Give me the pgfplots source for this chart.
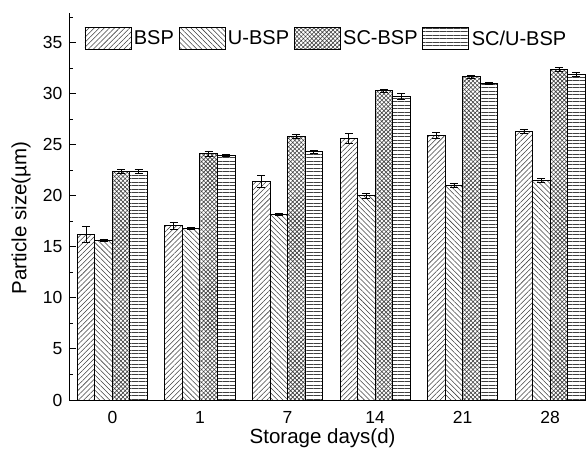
\documentclass[border=0pt]{standalone}
\usepackage{pgfplots}
\pgfplotsset{compat=1.18}
\usetikzlibrary{patterns.meta}
\usepackage{fontspec}
\setmainfont{Liberation Sans}

\pgfplotstableread{
x y e
0 16.25 0.80
1 17.10 0.35
2 21.40 0.60
3 25.60 0.50
4 25.90 0.30
5 26.30 0.20
}\bsp
\pgfplotstableread{
x y e
0 15.65 0.12
1 16.80 0.12
2 18.20 0.12
3 20.00 0.20
4 21.00 0.20
5 21.50 0.20
}\ubsp
\pgfplotstableread{
x y e
0 22.40 0.15
1 24.15 0.25
2 25.85 0.20
3 30.30 0.15
4 31.65 0.15
5 32.40 0.20
}\scbsp
\pgfplotstableread{
x y e
0 22.40 0.20
1 23.95 0.12
2 24.30 0.15
3 29.75 0.30
4 31.00 0.12
5 31.90 0.20
}\scubsp

\pgfplotsset{
  mylegend/.style={legend image code/.code={\draw[##1,line width=0.8pt] (0pt,-11pt) rectangle (46pt,11pt);}},
}

\begin{document}
\begin{tikzpicture}[x=1pt,y=1pt]
\useasboundingbox (-69.5,-48) rectangle (516.5,400);
\begin{axis}[
  at={(0,0)}, anchor=south west,
  scale only axis, width=516.5pt, height=387pt,
  axis lines=left,
  axis line style={-, line width=1pt, black},
  xmin=-0.49, xmax=5.41,
  ymin=0, ymax=37.9,
  xtick={0,1,2,3,4,5},
  xticklabels={0,1,7,14,21,28},
  xtick style={draw=none},
  ytick={0,5,...,35},
  minor ytick={2.5,7.5,...,37.5},
  tick align=inside,
  major tick length=7pt,
  minor tick length=3.5pt,
  ytick style={line width=0.9pt, black},
  minor tick style={line width=0.9pt, black},
  /pgf/number format/assume math mode=true,
  tick label style={font=\fontsize{17.5}{20}\selectfont},
  yticklabel style={xshift=-3.5pt},
  xticklabel style={yshift=-1pt},
  label style={font=\fontsize{20.5}{24}\selectfont},
  xlabel={Storage days(d)},
  ylabel={Particle size(µm)},
  ylabel style={at={(axis description cs:-0.094,0.47)}, anchor=center, rotate=0},
  xlabel style={at={(axis description cs:0.49,0)}, anchor=base, yshift=-43pt},
  ybar=0pt,
  bar width=0.2,
  legend columns=4,
  legend style={draw=none, fill=none, at={(0.023,0.969)}, anchor=north west,
    font=\fontsize{20}{24}\selectfont,
    /tikz/every even column/.append style={column sep=2.3pt},
    /tikz/every odd column/.append style={column sep=0pt},
    nodes={inner sep=2.5pt}},
  error bars/y dir=both,
  error bars/y explicit,
  error bars/error bar style={black, line width=0.6pt},
  error bars/error mark options={rotate=90, mark size=4pt, black, line width=0.6pt},
]
\addplot[mylegend, draw=black, line width=0.9pt, pattern={Lines[angle=45,distance=3.6pt,line width=0.55pt]}, pattern color=black!75]
  table[x=x, y=y, y error=e] {\bsp};
\addplot[mylegend, draw=black, line width=0.9pt, pattern={Lines[angle=-45,distance=3.6pt,line width=0.55pt]}, pattern color=black!75]
  table[x=x, y=y, y error=e] {\ubsp};
\addplot[mylegend, draw=black, line width=0.9pt, pattern={Hatch[angle=45,distance=3pt,line width=0.6pt]}, pattern color=black!75]
  table[x=x, y=y, y error=e] {\scbsp};
\addplot[mylegend, draw=black, line width=0.9pt, pattern={Lines[angle=0,distance=3.5pt,line width=0.55pt]}, pattern color=black!75]
  table[x=x, y=y, y error=e] {\scubsp};
\legend{BSP,U-BSP,SC-BSP,SC/U-BSP}
\end{axis}
\end{tikzpicture}
\end{document}
